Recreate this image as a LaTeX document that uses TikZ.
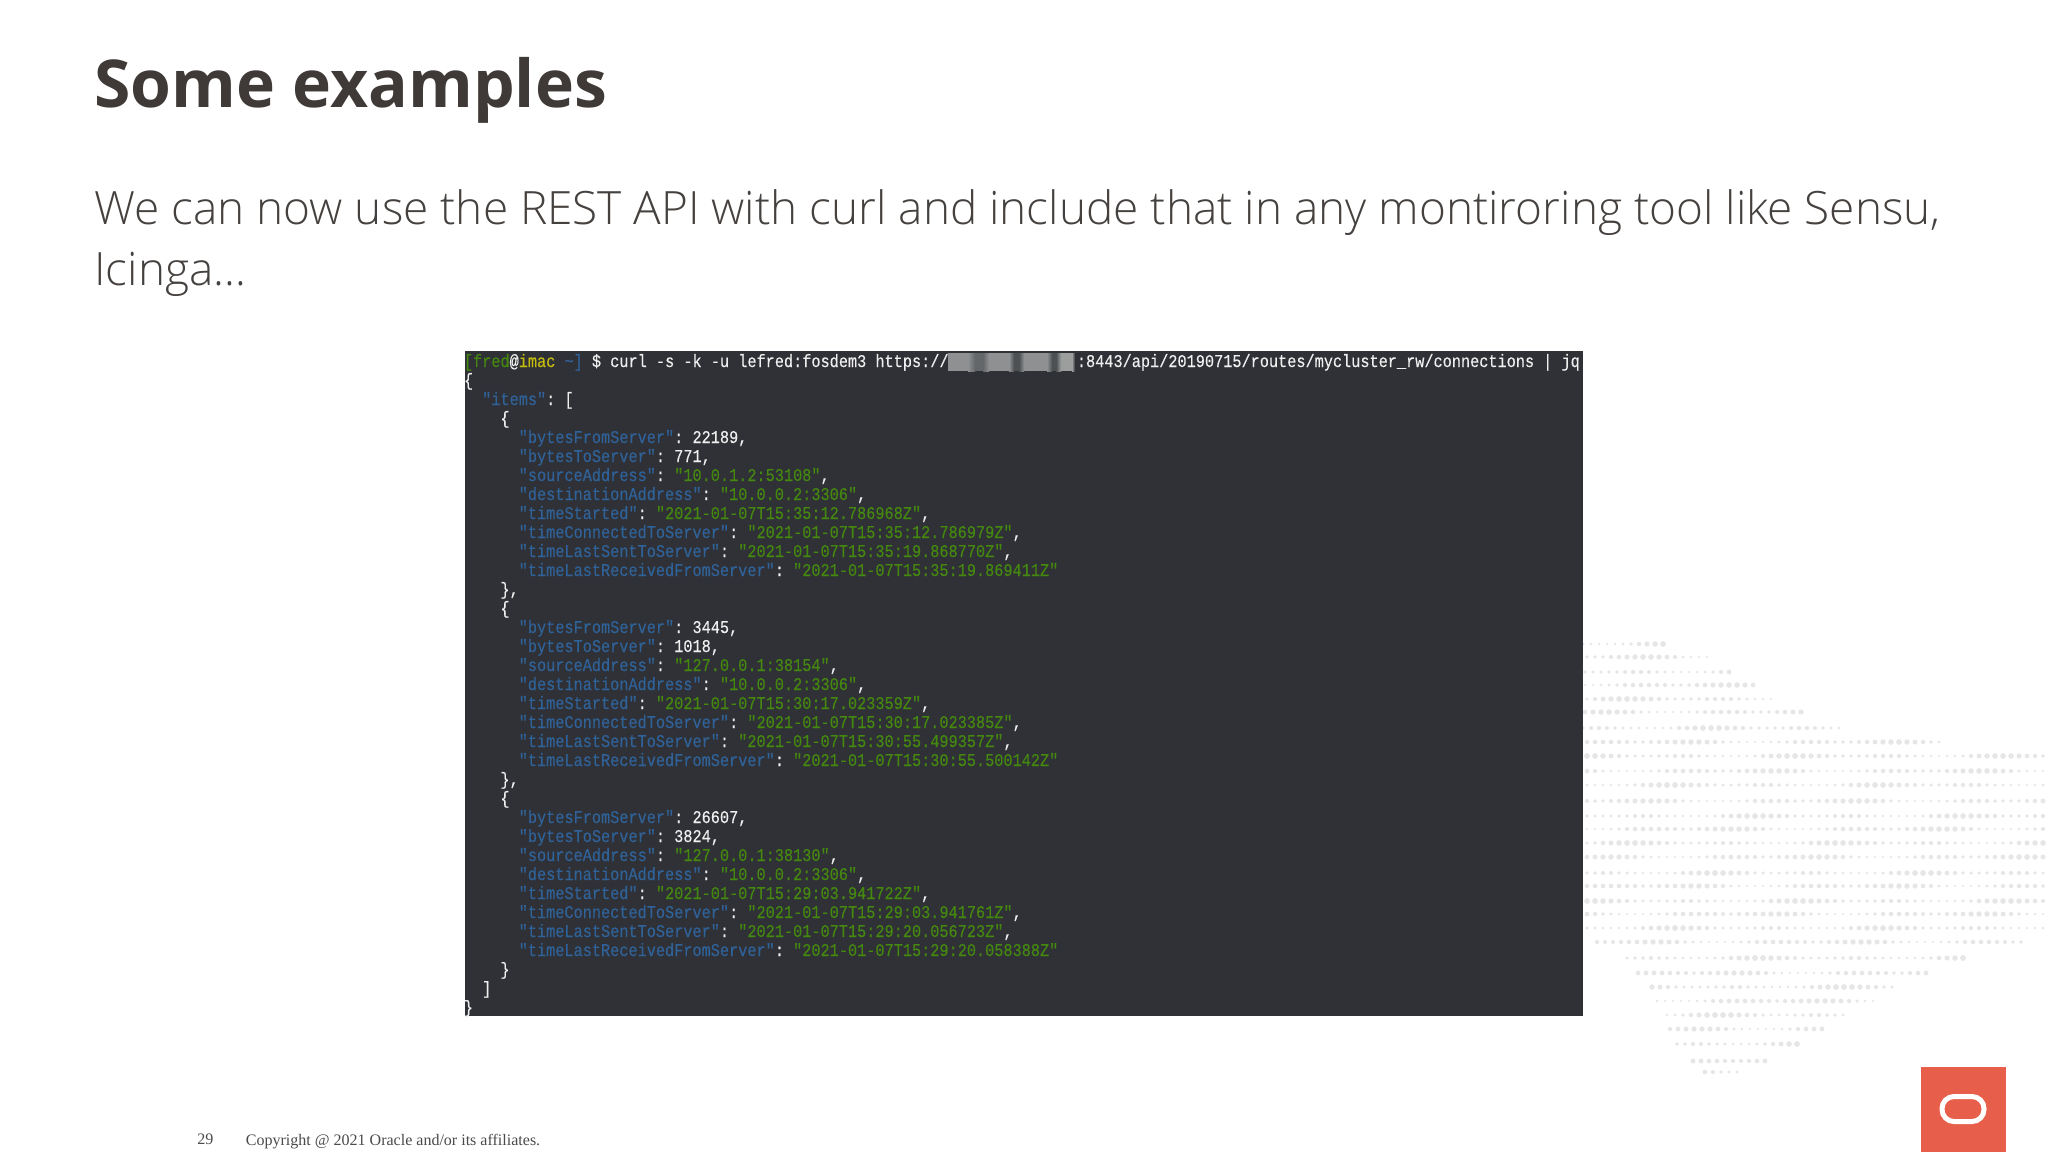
\documentclass[tikz,border=0pt]{standalone}
\usepackage{fontspec}
\setmainfont{Open Sans}
\newfontfamily\titlefont{Open Sans}[UprightFont={* Bold}]
\newfontfamily\bodyfont{Open Sans}[UprightFont={* Light}]
\newfontfamily\footfont{Liberation Serif}
\newfontfamily\termfont{Liberation Mono}[FakeStretch=0.85,FakeBold=0.25]
\definecolor{termbg}{HTML}{2F3136}
\definecolor{keyblue}{HTML}{2F6299}
\definecolor{valgreen}{HTML}{45880F}
\definecolor{plain}{HTML}{EFEFEF}
\definecolor{promptyellow}{HTML}{C4BC0C}
\definecolor{dotgrey}{HTML}{E6E6E8}
\definecolor{logored}{HTML}{E75F4A}
\definecolor{headtext}{HTML}{3F3A38}
\definecolor{bodytext}{HTML}{45413F}
\definecolor{foottext}{HTML}{4A4A4A}
\definecolor{blurlight}{HTML}{8E9091}
\definecolor{blurend}{HTML}{9C9E9E}
\definecolor{blurdark}{HTML}{4E5154}
\definecolor{blurmid}{HTML}{64676A}
\newcommand{\K}[1]{\textcolor{keyblue}{"#1"}}
\newcommand{\V}[1]{\textcolor{valgreen}{"#1"}}
\newcommand{\tline}[3]{\node[termline] (row#1) at ({463.5+#2*9.14},{367+#1*19}) {#3};}
\tikzset{
  termline/.style={anchor=base west,inner sep=0pt,text=plain,
    font=\termfont\fontsize{8.965}{9.5}\selectfont\frenchspacing},
  pagetitle/.style={anchor=base west,inner sep=0pt,text=headtext,
    font=\titlefont\fontsize{33}{40}\selectfont},
  bodyline/.style={anchor=base west,inner sep=0pt,text=bodytext,
    font=\bodyfont\fontsize{22.96}{28}\selectfont},
  footline/.style={anchor=base west,inner sep=0pt,text=foottext,
    font=\footfont\fontsize{8.01}{9}\selectfont},
  bgdot/.style={fill=dotgrey,draw=none},
}
\begin{document}
\begin{tikzpicture}[x=0.5pt,y=-0.5pt]
\clip (0,0) rectangle (2048,1152);
\fill[white] (0,0) rectangle (2048,1152);
% dotted world-map backdrop
\foreach \yy/\xa/\xb [count=\r] in {644/1583/1663,657/1587/1707,672/1585/1733,685/1585/1760,699/1587/1777,712/1585/1807,728/1583/1843,742/1587/1943,756/1587/2048,771/1587/2048,785/1587/2048,801/1587/2048,816/1587/2048,829/1587/2048,843/1587/2048,857/1587/2048,873/1587/2048,886/1587/2048,901/1587/2048,914/1587/2048,928/1587/2048,942/1597/2023,958/1627/1967,973/1638/1927,987/1652/1895,1001/1657/1875,1015/1667/1847,1029/1670/1823,1044/1677/1800,1061/1693/1770,1072/1705/1740}{
  \pgfmathsetmacro\xend{\xb}
  \foreach \xx in {\xa,\the\numexpr\xa+8\relax,...,\xend}{
    \pgfmathsetmacro\rad{2.0+0.95*sin(\xx*2.6+\r*71)*cos(\xx*0.9-\r*37)}
    \fill[bgdot] (\xx,\yy) circle[radius=\rad];
  }
}
% terminal panel
\node[draw=none,fill=termbg,inner sep=0pt,minimum width=559pt,minimum height=332.5pt,anchor=north west] (term) at (465,351) {};
% blurred address
\fill[blurlight] (948,353) rectangle (968,371);
\shade[left color=blurlight,right color=blurmid] (968,353) rectangle (975,371);
\fill[blurmid] (975,353) rectangle (983,371);
\shade[left color=blurmid,right color=blurlight] (983,353) rectangle (989,371);
\fill[blurlight] (989,353) rectangle (1009,371);
\shade[left color=blurlight,right color=blurdark] (1009,353) rectangle (1014,371);
\fill[blurdark] (1014,353) rectangle (1019,371);
\shade[left color=blurdark,right color=blurlight] (1019,353) rectangle (1024,371);
\fill[blurlight] (1024,353) rectangle (1047,371);
\shade[left color=blurlight,right color=blurdark] (1047,353) rectangle (1052,371);
\fill[blurdark] (1052,353) rectangle (1056,371);
\shade[left color=blurdark,right color=blurend] (1056,353) rectangle (1061,371);
\fill[blurend] (1061,353) rectangle (1072,371);
\shade[left color=blurend,right color=termbg] (1072,353) rectangle (1075,371);
% terminal text
\node[termline] (prompt) at (463.5,367) {\textcolor{valgreen}{[fred}@\textcolor{promptyellow}{imac} \textcolor{keyblue}{\textasciitilde]} \$ curl -s -k -u lefred:fosdem3 https://};
\node[termline] (cmd) at (1076.5,367) {:8443/api/20190715/routes/mycluster\_rw/connections | jq};
\tline{1}{0}{\{}
\tline{2}{2}{\K{items}: [}
\tline{3}{4}{\{}
\tline{4}{6}{\K{bytesFromServer}: 22189,}
\tline{5}{6}{\K{bytesToServer}: 771,}
\tline{6}{6}{\K{sourceAddress}: \V{10.0.1.2:53108},}
\tline{7}{6}{\K{destinationAddress}: \V{10.0.0.2:3306},}
\tline{8}{6}{\K{timeStarted}: \V{2021-01-07T15:35:12.786968Z},}
\tline{9}{6}{\K{timeConnectedToServer}: \V{2021-01-07T15:35:12.786979Z},}
\tline{10}{6}{\K{timeLastSentToServer}: \V{2021-01-07T15:35:19.868770Z},}
\tline{11}{6}{\K{timeLastReceivedFromServer}: \V{2021-01-07T15:35:19.869411Z}}
\tline{12}{4}{\},}
\tline{13}{4}{\{}
\tline{14}{6}{\K{bytesFromServer}: 3445,}
\tline{15}{6}{\K{bytesToServer}: 1018,}
\tline{16}{6}{\K{sourceAddress}: \V{127.0.0.1:38154},}
\tline{17}{6}{\K{destinationAddress}: \V{10.0.0.2:3306},}
\tline{18}{6}{\K{timeStarted}: \V{2021-01-07T15:30:17.023359Z},}
\tline{19}{6}{\K{timeConnectedToServer}: \V{2021-01-07T15:30:17.023385Z},}
\tline{20}{6}{\K{timeLastSentToServer}: \V{2021-01-07T15:30:55.499357Z},}
\tline{21}{6}{\K{timeLastReceivedFromServer}: \V{2021-01-07T15:30:55.500142Z}}
\tline{22}{4}{\},}
\tline{23}{4}{\{}
\tline{24}{6}{\K{bytesFromServer}: 26607,}
\tline{25}{6}{\K{bytesToServer}: 3824,}
\tline{26}{6}{\K{sourceAddress}: \V{127.0.0.1:38130},}
\tline{27}{6}{\K{destinationAddress}: \V{10.0.0.2:3306},}
\tline{28}{6}{\K{timeStarted}: \V{2021-01-07T15:29:03.941722Z},}
\tline{29}{6}{\K{timeConnectedToServer}: \V{2021-01-07T15:29:03.941761Z},}
\tline{30}{6}{\K{timeLastSentToServer}: \V{2021-01-07T15:29:20.056723Z},}
\tline{31}{6}{\K{timeLastReceivedFromServer}: \V{2021-01-07T15:29:20.058388Z}}
\tline{32}{4}{\}}
\tline{33}{2}{]}
\tline{34}{0}{\}}
% slide text
\node[pagetitle] (title) at (94,107) {Some examples};
\node[bodyline] (body1) at (94,224) {We can now use the REST API with curl and include that in any montiroring tool like Sensu,};
\node[bodyline] (body2) at (94,285) {Icinga…};
\node[footline] (pageno) at (197,1144) {29};
\node[footline] (copy) at (245.5,1145) {Copyright @ 2021 Oracle and/or its affiliates.};
% logo
\node[fill=logored,draw=none,inner sep=0pt,minimum width=42.5pt,minimum height=42.5pt,anchor=north west] (logo) at (1921,1067) {};
\node[draw=white,line width=2.5pt,rounded corners=6pt,fill=none,inner sep=0pt,minimum width=21pt,minimum height=12.5pt] (ring) at (1963,1109) {};
\end{tikzpicture}
\end{document}
